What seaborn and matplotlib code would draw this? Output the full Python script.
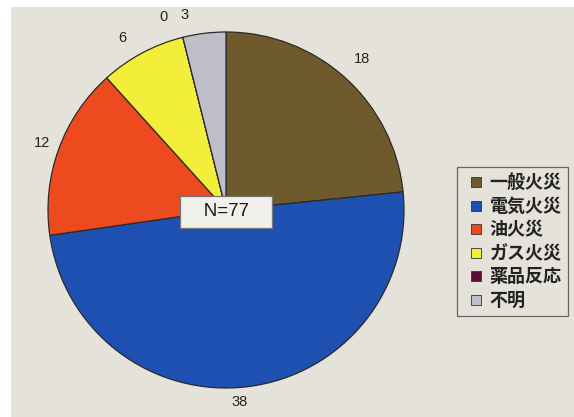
import numpy as np
import matplotlib
matplotlib.use("Agg")
import matplotlib.pyplot as plt
from matplotlib.patches import Rectangle
from matplotlib.lines import Line2D
import seaborn as sns

# Fire incidents by cause
categories = ["一般火災", "電気火災", "油火災", "ガス火災", "薬品反応", "不明"]
counts = [18, 38, 12, 6, 0, 3]
colors = ["#6E5A2C", "#1E50B2", "#EE4A20", "#F2EE3A", "#5A0E36", "#BEBEC8"]
total_label = "N=77"

sns.set_theme(style="white")
plt.rcParams["font.family"] = ["Noto Sans CJK JP", "DejaVu Sans"]

W, H = 574, 417
fig = plt.figure(figsize=(W / 100, H / 100), dpi=100, facecolor="white")

# panel background
fig.patches.append(Rectangle((11 / W, 0), 1 - 11 / W, (H - 7) / H,
                             transform=fig.transFigure, facecolor="#E5E3D9",
                             edgecolor="none", zorder=-5))

cx, cy, r = 226, 207, 178
ax = fig.add_axes([(cx - r) / W, (cy - r) / H, 2 * r / W, 2 * r / H])
ax.set_facecolor("none")
ax.set_zorder(2)

wedges, _ = ax.pie(counts, colors=colors, startangle=90, counterclock=False,
                   radius=1.0, wedgeprops=dict(edgecolor="#2A2A2A", linewidth=0.9))
ax.set_xlim(-1, 1)
ax.set_ylim(-1, 1)
ax.set_aspect("equal")
ax.axis("off")

# value labels around the pie; crowded small slices get spread apart
nudge = [0, -3, 0, 3, 4, 5]
dist = [1.14, 1.08, 1.10, 1.13, 1.14, 1.12]
for w, v, dn, d in zip(wedges, counts, nudge, dist):
    ang = np.deg2rad((w.theta1 + w.theta2) / 2 + dn)
    ax.text(d * np.cos(ang), d * np.sin(ang), str(v), ha="center", va="center",
            fontsize=10.5, color="#222222", family=["Liberation Sans", "DejaVu Sans"])

# total count box at centre
ax.text(0, -0.01, "   " + total_label + "   ", ha="center", va="center", fontsize=13.5,
        color="#1A1A1A", family=["Liberation Sans", "DejaVu Sans"],
        bbox=dict(boxstyle="square,pad=0.4", facecolor="#F1F0EA",
                  edgecolor="#777777", linewidth=0.9))

handles = [Line2D([], [], linestyle="none", marker="s", markersize=7.2,
                  markerfacecolor=c, markeredgecolor="#333333", markeredgewidth=0.6)
           for c in colors]
leg = fig.legend(handles, categories, loc="upper left",
                 bbox_to_anchor=(457 / W, 1 - 167 / H), frameon=True,
                 fancybox=False, prop=dict(size=13, weight="bold"),
                 handlelength=1.35, handletextpad=0.1, labelspacing=0.25,
                 borderpad=0.35, borderaxespad=0)
leg.get_frame().set_facecolor("#E5E3D9")
leg.get_frame().set_edgecolor("#444444")
leg.get_frame().set_linewidth(0.9)
for t in leg.get_texts():
    t.set_color("#222222")

fig.savefig("out.png", dpi=100, facecolor="white")
